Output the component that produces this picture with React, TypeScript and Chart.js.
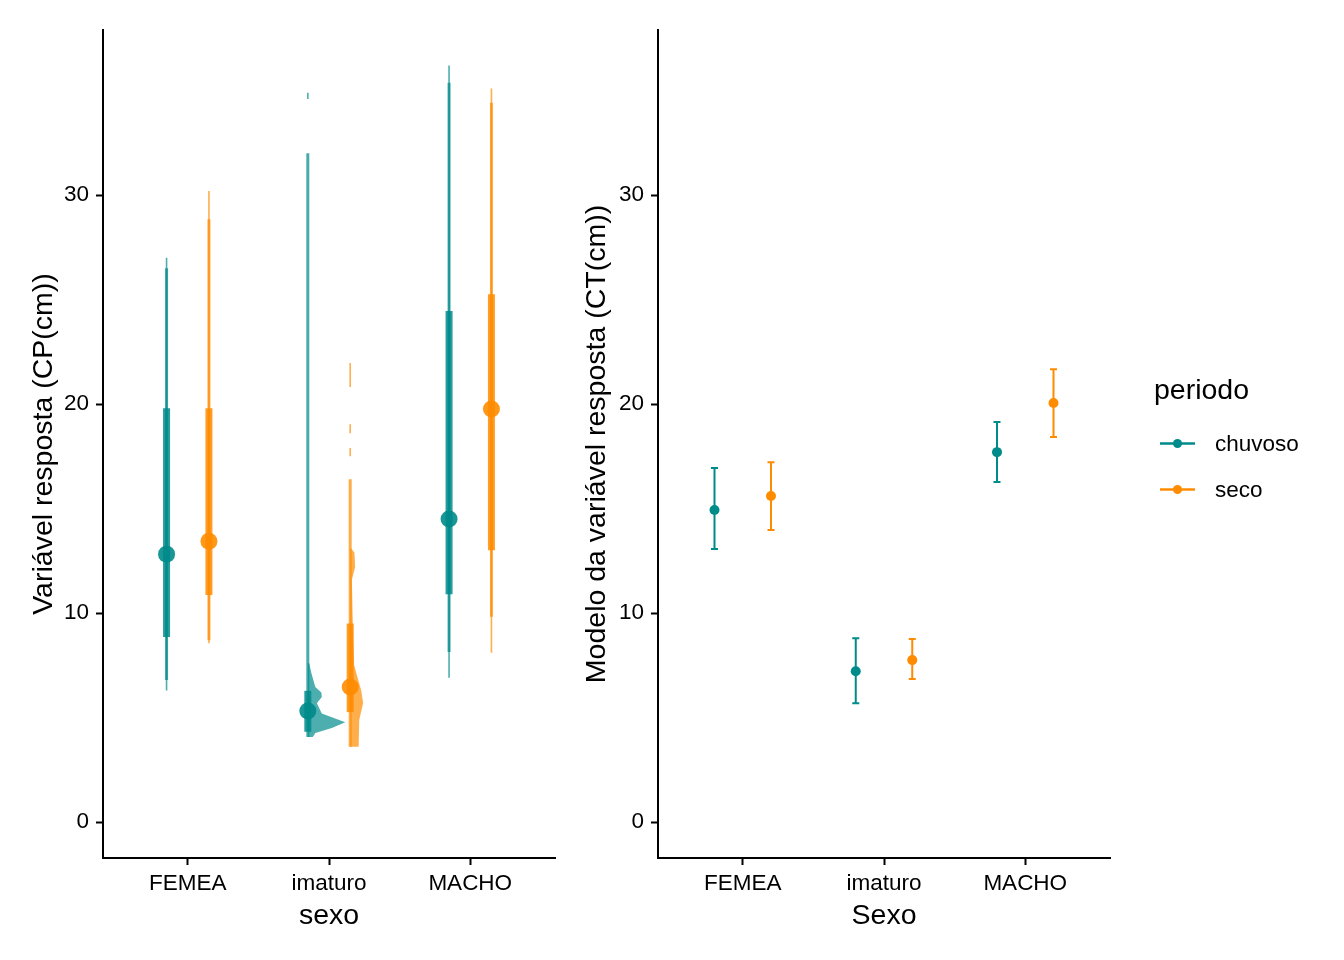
import React, { useEffect, useRef } from 'react'
import { Chart, registerables } from 'chart.js'

Chart.register(...registerables)
Chart.defaults.font.family = "'Liberation Sans', Arial, sans-serif"

// ============================================================================
// DATA
// ============================================================================

const sexo = ['FEMEA', 'imaturo', 'MACHO']
const periodos = ['chuvoso', 'seco']
const cores = ['#008B8B', '#FF8C00']
const yTicks = [0, 10, 20, 30]

// left panel (CP): medians and intervals of the halfeye
const medianaChuvoso = [12.82, 5.31, 14.5]
const medianaSeco = [13.44, 6.46, 19.76]
const int66Chuvoso = [[8.86, 19.8], [4.32, 6.28], [10.9, 24.45]]
const int66Seco = [[10.86, 19.8], [5.26, 9.5], [13.0, 25.26]]
const int95Chuvoso = [[6.8, 26.5], [4.07, 32.0], [8.14, 35.37]]
const int95Seco = [[8.7, 28.85], [3.6, 16.4], [9.82, 34.42]]
// thin slab tails / fragments (group index, lo, hi)
const caudaChuvoso = [[0, 6.3, 27.0], [1, 34.6, 34.9], [2, 6.9, 36.2]]
const caudaSeco = [[0, 8.56, 30.2], [1, 17.5, 17.9], [1, 18.6, 19.04], [1, 20.82, 21.97], [2, 8.1, 35.1]]

// density slabs for imaturo (value, density in x units)
const slabImaturoChuvosoY = [4.07, 4.26, 4.5, 4.78, 5.2, 5.69, 5.98, 6.2, 6.46, 7.13, 7.6]
const slabImaturoChuvosoD = [0.035, 0.053, 0.17, 0.265, 0.099, 0.064, 0.099, 0.096, 0.053, 0.025, 0.01]
const slabImaturoSecoY = [3.6, 4.88, 5.7, 6.3, 7.5, 8.7, 10.9, 11.6, 12.2, 12.9, 13.1]
const slabImaturoSecoD = [0.06, 0.064, 0.092, 0.078, 0.028, 0.021, 0.014, 0.012, 0.035, 0.03, 0.005]

// right panel (CT): model estimates
const estimativaChuvoso = [14.93, 7.22, 17.7]
const estimativaSeco = [15.6, 7.75, 20.05]
const icChuvoso = [[13.06, 16.94], [5.69, 8.8], [16.27, 19.14]]
const icSeco = [[13.97, 17.22], [6.84, 8.76], [18.42, 21.67]]

// ============================================================================
// HELPERS
// ============================================================================

const rgba = (hex: string, a: number) => {
  const n = parseInt(hex.slice(1), 16)
  return `rgba(${(n >> 16) & 255},${(n >> 8) & 255},${n & 255},${a})`
}

const TICK_FONT = 22.5
const TITLE_FONT = 28.5

const eixoX = (titulo: string) => ({
  type: 'linear' as const,
  min: 0.4,
  max: 3.6,
  afterBuildTicks: (s: any) => {
    s.ticks = sexo.map((_, i) => ({ value: i + 1 }))
  },
  afterFit: (s: any) => {
    s.height = 102
  },
  ticks: {
    callback: (v: any) => sexo[Math.round(Number(v)) - 1] ?? '',
    color: '#000',
    font: { size: TICK_FONT },
    padding: 5,
    autoSkip: false,
    maxRotation: 0,
  },
  grid: { display: true, drawOnChartArea: false, drawTicks: true, tickLength: 7, tickWidth: 2, tickColor: '#000' },
  border: { display: true, color: '#000', width: 2 },
  title: { display: true, text: titulo, color: '#000', font: { size: TITLE_FONT }, padding: { top: 0, bottom: 27 } },
})

const eixoY = (titulo: string, largura: number, offset: number) => ({
  type: 'linear' as const,
  min: -1.72,
  max: 37.9,
  afterBuildTicks: (s: any) => {
    s.ticks = yTicks.map((v) => ({ value: v }))
  },
  afterFit: (s: any) => {
    s.width = largura
  },
  ticks: { color: '#000', font: { size: TICK_FONT }, padding: 7 },
  grid: { display: true, drawOnChartArea: false, drawTicks: true, tickLength: 7, tickWidth: 2, tickColor: '#000' },
  border: { display: true, color: '#000', width: 2 },
  title: { display: true, text: titulo, color: '#000', font: { size: TITLE_FONT }, padding: { top: offset, bottom: 0 } },
})

// ============================================================================
// LEFT PANEL: HALFEYE
// ============================================================================

const DODGE_L = 0.15

const slabPlugin = {
  id: 'slabs',
  beforeDatasetsDraw(chart: any) {
    const { ctx, scales } = chart
    const { x, y } = scales
    const slabs = [
      { pos: 2 - DODGE_L, ys: slabImaturoChuvosoY, ds: slabImaturoChuvosoD, cor: cores[0] },
      { pos: 2 + DODGE_L, ys: slabImaturoSecoY, ds: slabImaturoSecoD, cor: cores[1] },
    ]
    ctx.save()
    for (const s of slabs) {
      ctx.beginPath()
      ctx.moveTo(x.getPixelForValue(s.pos), y.getPixelForValue(s.ys[0]))
      s.ys.forEach((v, k) => ctx.lineTo(x.getPixelForValue(s.pos + s.ds[k]), y.getPixelForValue(v)))
      ctx.lineTo(x.getPixelForValue(s.pos), y.getPixelForValue(s.ys[s.ys.length - 1]))
      ctx.closePath()
      ctx.fillStyle = rgba(s.cor, 0.7)
      ctx.fill()
    }
    ctx.restore()
  },
}

const segmento = (x: number, lo: number, hi: number, cor: string, largura: number) => ({
  data: [{ x, y: lo }, { x, y: hi }],
  showLine: true,
  borderColor: cor,
  borderWidth: largura,
  borderCapStyle: 'butt' as const,
  pointRadius: 0,
  pointHoverRadius: 0,
})

const HalfeyePanel: React.FC = () => {
  const canvasRef = useRef<HTMLCanvasElement>(null)

  useEffect(() => {
    if (!canvasRef.current) return
    const medianas = [medianaChuvoso, medianaSeco]
    const int66 = [int66Chuvoso, int66Seco]
    const int95 = [int95Chuvoso, int95Seco]
    const caudas = [caudaChuvoso, caudaSeco]
    const desl = [-DODGE_L, DODGE_L]

    const datasets: any[] = []
    // medians on top (drawn last)
    periodos.forEach((_, p) => {
      datasets.push({
        data: medianas[p].map((m, i) => ({ x: i + 1 + desl[p], y: m })),
        backgroundColor: rgba(cores[p], 0.9),
        borderWidth: 0,
        pointRadius: 8.5,
        pointHoverRadius: 8.5,
      })
    })
    periodos.forEach((_, p) => {
      int66[p].forEach(([lo, hi], i) => datasets.push(segmento(i + 1 + desl[p], lo, hi, rgba(cores[p], 0.85), 7)))
    })
    periodos.forEach((_, p) => {
      int95[p].forEach(([lo, hi], i) => datasets.push(segmento(i + 1 + desl[p], lo, hi, rgba(cores[p], 0.72), 3)))
    })
    periodos.forEach((_, p) => {
      caudas[p].forEach(([g, lo, hi]) => datasets.push(segmento(g + 1 + desl[p], lo, hi, rgba(cores[p], 0.7), 1.6)))
    })

    const chart = new Chart(canvasRef.current, {
      type: 'scatter',
      data: { datasets },
      options: {
        animation: false,
        responsive: false,
        layout: { padding: { left: 0, right: 15, top: 30, bottom: 0 } },
        plugins: { legend: { display: false }, tooltip: { enabled: false } },
        scales: {
          x: eixoX('sexo') as any,
          y: eixoY('Variável resposta (CP(cm))', 103, 27) as any,
        },
      },
      plugins: [slabPlugin],
    })
    return () => chart.destroy()
  }, [])

  return (
    <canvas
      ref={canvasRef}
      width={570}
      height={960}
      style={{ position: 'absolute', left: 0, top: 0, width: 570, height: 960 }}
    />
  )
}

// ============================================================================
// RIGHT PANEL: MODEL ESTIMATES
// ============================================================================

const DODGE_R = 0.2

const errorBarPlugin = {
  id: 'errorBars',
  beforeDatasetsDraw(chart: any) {
    const { ctx, scales } = chart
    const { x, y } = scales
    const ics = [icChuvoso, icSeco]
    const desl = [-DODGE_R, DODGE_R]
    ctx.save()
    ctx.lineWidth = 2
    periodos.forEach((_, p) => {
      ctx.strokeStyle = cores[p]
      ics[p].forEach(([lo, hi], i) => {
        const px = x.getPixelForValue(i + 1 + desl[p])
        const y0 = y.getPixelForValue(lo)
        const y1 = y.getPixelForValue(hi)
        ctx.beginPath()
        ctx.moveTo(px, y0)
        ctx.lineTo(px, y1)
        ctx.moveTo(px - 3.5, y0)
        ctx.lineTo(px + 3.5, y0)
        ctx.moveTo(px - 3.5, y1)
        ctx.lineTo(px + 3.5, y1)
        ctx.stroke()
      })
    })
    ctx.restore()
  },
}

const legendPlugin = {
  id: 'periodoLegend',
  afterDraw(chart: any) {
    const { ctx } = chart
    const ff = Chart.defaults.font.family
    ctx.save()
    ctx.fillStyle = '#000'
    ctx.textAlign = 'left'
    ctx.textBaseline = 'middle'
    ctx.font = `${TITLE_FONT}px ${ff}`
    ctx.fillText('periodo', 594, 391)
    periodos.forEach((nome, p) => {
      const yy = 443.5 + p * 46
      ctx.strokeStyle = cores[p]
      ctx.lineWidth = 2.5
      ctx.beginPath()
      ctx.moveTo(600, yy)
      ctx.lineTo(635, yy)
      ctx.stroke()
      ctx.fillStyle = cores[p]
      ctx.beginPath()
      ctx.arc(617.5, yy, 4.5, 0, Math.PI * 2)
      ctx.fill()
      ctx.fillStyle = '#000'
      ctx.font = `${TICK_FONT}px ${ff}`
      ctx.fillText(nome, 655, yy + 1)
    })
    ctx.restore()
  },
}

const ModeloPanel: React.FC = () => {
  const canvasRef = useRef<HTMLCanvasElement>(null)

  useEffect(() => {
    if (!canvasRef.current) return
    const estimativas = [estimativaChuvoso, estimativaSeco]
    const desl = [-DODGE_R, DODGE_R]

    const datasets = periodos.map((nome, p) => ({
      label: nome,
      data: estimativas[p].map((m, i) => ({ x: i + 1 + desl[p], y: m })),
      backgroundColor: cores[p],
      borderWidth: 0,
      pointRadius: 5,
      pointHoverRadius: 5,
    }))

    const chart = new Chart(canvasRef.current, {
      type: 'scatter',
      data: { datasets },
      options: {
        animation: false,
        responsive: false,
        layout: { padding: { left: 0, right: 234, top: 30, bottom: 0 } },
        plugins: { legend: { display: false }, tooltip: { enabled: false } },
        scales: {
          x: eixoX('Sexo') as any,
          y: eixoY('Modelo da variável resposta (CT(cm))', 98, 20) as any,
        },
      },
      plugins: [errorBarPlugin, legendPlugin],
    })
    return () => chart.destroy()
  }, [])

  return (
    <canvas
      ref={canvasRef}
      width={784}
      height={960}
      style={{ position: 'absolute', left: 560, top: 0, width: 784, height: 960 }}
    />
  )
}

// ============================================================================
// APP
// ============================================================================

export default function App() {
  return (
    <div style={{ position: 'fixed', left: 0, top: 0, width: 1344, height: 960, background: '#fff', overflow: 'hidden' }}>
      <HalfeyePanel />
      <ModeloPanel />
    </div>
  )
}
